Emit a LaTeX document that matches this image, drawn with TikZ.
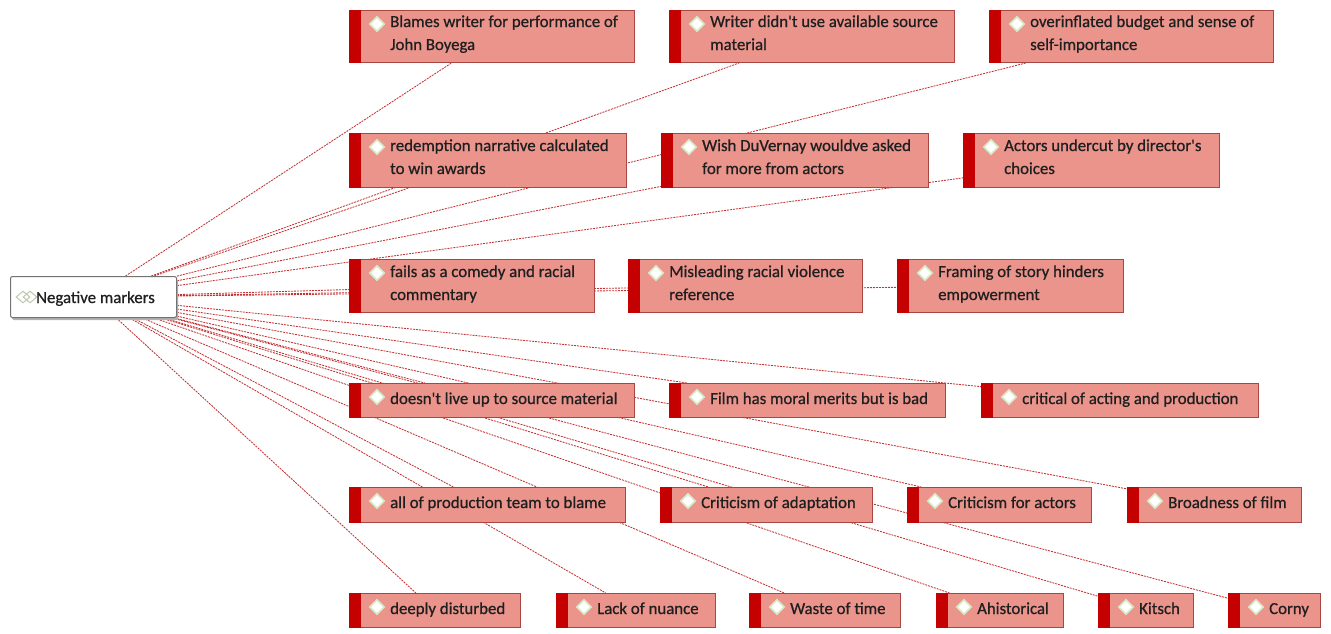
\documentclass[tikz,border=0pt]{standalone}
\usepackage{fontspec}
\setmainfont{Carlito}
\newfontfamily\boxfont[FakeBold=0.7]{Carlito}
\usetikzlibrary{backgrounds,shapes.geometric}
\definecolor{boxfill}{RGB}{234,148,140}
\definecolor{boxedge}{RGB}{170,70,66}
\definecolor{barred}{RGB}{196,0,0}
\definecolor{linkred}{RGB}{196,50,50}
\definecolor{glow}{RGB}{214,232,196}
\tikzset{
  cbox/.style={rectangle, draw=boxedge, line width=0.9pt, fill=boxfill, inner sep=0pt},
  ctext/.style={inner sep=0pt, font=\boxfont\fontsize{16.8}{23}\selectfont, text=black!88},
  diam/.style={diamond, fill=white, draw=glow, line width=1.6pt, inner sep=0pt, minimum width=15pt, minimum height=15pt},
  link/.style={draw=linkred, line width=0.85pt, dash pattern=on 2pt off 1pt},
  rootbox/.style={rectangle, rounded corners=2pt, draw=black!55, line width=1pt, fill=white, inner sep=0pt},
}
\newcommand\cbox[5]{%
  \node[cbox, minimum width=#4pt, minimum height=#5pt, anchor=north west] (#1) at (#2,#3) {};
  \fill[barred] (#1.north west) rectangle ([xshift=12pt]#1.south west);
  \node[diam] (#1d) at ([xshift=28pt,yshift=-14pt]#1.north west) {};
}
\newcommand\ctl[4]{% box, line name, dy, text
  \node[ctext, anchor=base west] (#1#2) at ([xshift=41pt,yshift=-#3pt]#1.north west) {#4};
}
\begin{document}
\begin{tikzpicture}[x=1pt,y=-1pt]
\useasboundingbox (0,0) rectangle (1331,633);
% root
\fill[black!30, rounded corners=2pt] (12,279) rectangle (178,320);
\node[rootbox, minimum width=166pt, minimum height=41pt, anchor=north west] (root) at (10,276) {};
\node[diamond, draw=glow!70!gray, line width=1pt, inner sep=0pt, minimum width=14pt, minimum height=12pt] (ri1) at (23,297) {};
\node[diamond, draw=glow!70!gray, line width=1pt, inner sep=0pt, minimum width=14pt, minimum height=12pt] (ri2) at (30,297) {};
\node[ctext, anchor=base west] (roott) at (36,303) {Negative markers};
% boxes
\cbox{b1}{349}{10}{285}{52}
\ctl{b1}{a}{17}{Blames writer for performance of}
\ctl{b1}{b}{40}{John Boyega}
\cbox{b2}{669}{10}{285}{52}
\ctl{b2}{a}{17}{Writer didn't use available source}
\ctl{b2}{b}{40}{material}
\cbox{b3}{989}{10}{284}{52}
\ctl{b3}{a}{17}{overinflated budget and sense of}
\ctl{b3}{b}{40}{self-importance}
\cbox{b4}{349}{133}{277}{54}
\ctl{b4}{a}{18}{redemption narrative calculated}
\ctl{b4}{b}{41}{to win awards}
\cbox{b5}{661}{133}{267}{54}
\ctl{b5}{a}{18}{Wish DuVernay wouldve asked}
\ctl{b5}{b}{41}{for more from actors}
\cbox{b6}{963}{133}{256}{54}
\ctl{b6}{a}{18}{Actors undercut by director's}
\ctl{b6}{b}{41}{choices}
\cbox{b7}{349}{259}{245}{53}
\ctl{b7}{a}{18}{fails as a comedy and racial}
\ctl{b7}{b}{41}{commentary}
\cbox{b8}{628}{259}{234}{53}
\ctl{b8}{a}{18}{Misleading racial violence}
\ctl{b8}{b}{41}{reference}
\cbox{b9}{897}{259}{226}{53}
\ctl{b9}{a}{18}{Framing of story hinders}
\ctl{b9}{b}{41}{empowerment}
\cbox{b10}{349}{383}{285}{34}
\ctl{b10}{a}{21}{doesn't live up to source material}
\cbox{b11}{669}{383}{276}{34}
\ctl{b11}{a}{21}{Film has moral merits but is bad}
\cbox{b12}{981}{383}{277}{34}
\ctl{b12}{a}{21}{critical of acting and production}
\cbox{b13}{349}{487}{276}{35}
\ctl{b13}{a}{21}{all of production team to blame}
\cbox{b14}{660}{487}{212}{35}
\ctl{b14}{a}{21}{Criticism of adaptation}
\cbox{b15}{907}{487}{184}{35}
\ctl{b15}{a}{21}{Criticism for actors}
\cbox{b16}{1127}{487}{174}{35}
\ctl{b16}{a}{21}{Broadness of film}
\cbox{b17}{349}{593}{171}{34}
\ctl{b17}{a}{21}{deeply disturbed}
\cbox{b18}{556}{593}{159}{34}
\ctl{b18}{a}{21}{Lack of nuance}
\cbox{b19}{749}{593}{151}{34}
\ctl{b19}{a}{21}{Waste of time}
\cbox{b20}{936}{593}{127}{34}
\ctl{b20}{a}{21}{Ahistorical}
\cbox{b21}{1098}{593}{95}{34}
\ctl{b21}{a}{21}{Kitsch}
\cbox{b22}{1228}{593}{92}{34}
\ctl{b22}{a}{21}{Corny}
% links
\begin{pgfonlayer}{background}
\foreach \b in {b1,b2,b3,b4,b5,b6,b7,b8,b9,b10,b11,b12,b13,b14,b15,b16,b17,b18,b19,b20,b21,b22}
  \draw[link] (root) -- (\b);
\end{pgfonlayer}
\end{tikzpicture}
\end{document}
